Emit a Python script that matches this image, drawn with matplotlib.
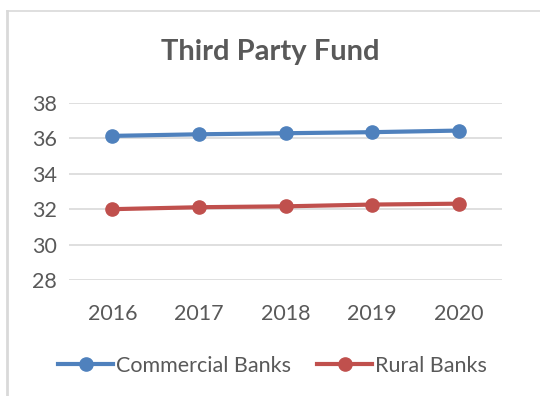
import matplotlib.pyplot as plt
from matplotlib.lines import Line2D

years = ["2016", "2017", "2018", "2019", "2020"]
commercial = [36.14, 36.23, 36.29, 36.35, 36.44]
rural = [32.0, 32.11, 32.16, 32.26, 32.31]
yticks = [28, 30, 32, 34, 36, 38]

plt.rcParams["font.family"] = ["Lato", "DejaVu Sans"]
text_color = "#595959"
blue = "#4F81BD"
red = "#C0504D"

fig = plt.figure(figsize=(5.4, 3.96), dpi=100)
ax = fig.add_axes([0.128, 0.293, 0.802, 0.447])

x = range(len(years))
ax.plot(x, commercial, color=blue, lw=3.0, marker="o", ms=9.5, label="Commercial Banks")
ax.plot(x, rural, color=red, lw=3.0, marker="o", ms=9.5, label="Rural Banks")

ax.set_xlim(-0.5, 4.5)
ax.set_ylim(28, 38)
ax.set_yticks(yticks)
ax.set_xticks(list(x))
ax.set_xticklabels(years)
ax.grid(axis="y", color="#D9D9D9", lw=1.2)
ax.set_axisbelow(True)
for s in ax.spines.values():
    s.set_visible(False)
ax.tick_params(length=0, labelsize=15.5, colors=text_color, pad=9)
ax.tick_params(axis="x", pad=17)

fig.text(0.5, 0.868, "Third Party Fund", ha="center", va="center",
         fontsize=21, fontweight="bold", color=text_color)

fig.legend(loc="center", bbox_to_anchor=(0.505, 0.076), ncol=2, frameon=False,
           fontsize=15.5, labelcolor=text_color, handlelength=2.55, handletextpad=0.15,
           columnspacing=1.2)

# chart frame (left and top edges only, as in the reference)
fig.add_artist(Line2D([0.0135, 0.0135], [0, 0.972], color="#D9D9D9", lw=2))
fig.add_artist(Line2D([0.0135, 1.0], [0.972, 0.972], color="#D9D9D9", lw=1.2))

fig.savefig("out.png", dpi=100)
